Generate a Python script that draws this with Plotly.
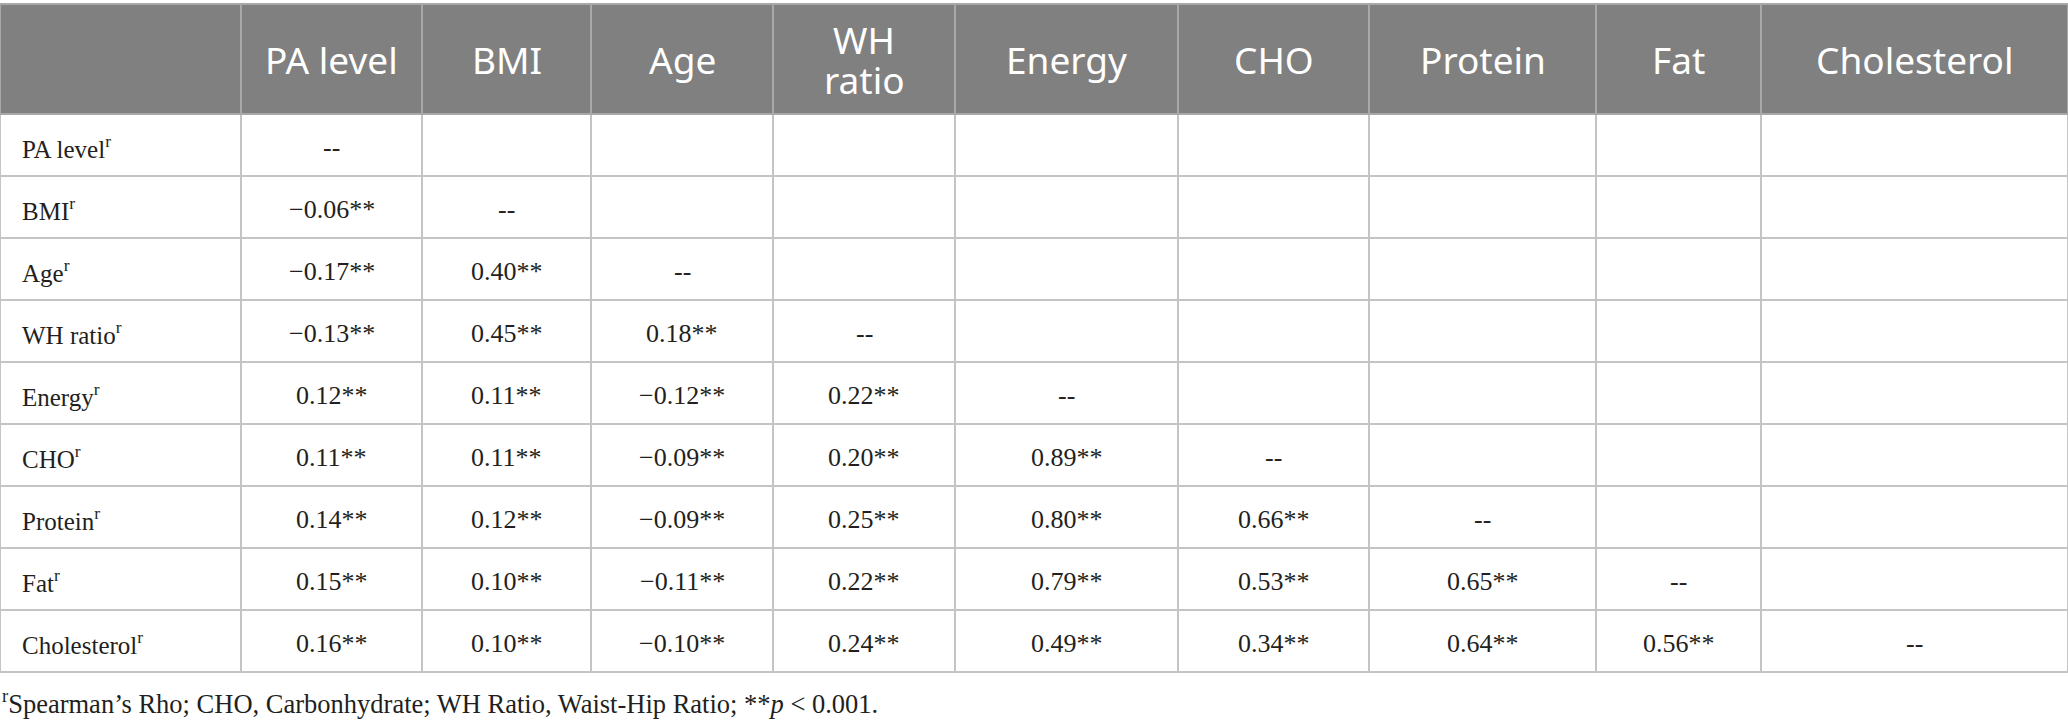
import plotly.graph_objects as go

# 変数名
col_labels = ["PA level", "BMI", "Age", "WH<br>ratio", "Energy", "CHO", "Protein", "Fat", "Cholesterol"]
row_labels = ["PA level", "BMI", "Age", "WH ratio", "Energy", "CHO", "Protein", "Fat", "Cholesterol"]

# 下三角の相関係数 (Spearman's rho)
rho_bmi = [-0.06]
rho_age = [-0.17, 0.40]
rho_wh = [-0.13, 0.45, 0.18]
rho_energy = [0.12, 0.11, -0.12, 0.22]
rho_cho = [0.11, 0.11, -0.09, 0.20, 0.89]
rho_protein = [0.14, 0.12, -0.09, 0.25, 0.80, 0.66]
rho_fat = [0.15, 0.10, -0.11, 0.22, 0.79, 0.53, 0.65]
rho_chol = [0.16, 0.10, -0.10, 0.24, 0.49, 0.34, 0.64, 0.56]
lower = [[], rho_bmi, rho_age, rho_wh, rho_energy, rho_cho, rho_protein, rho_fat, rho_chol]

footnote = ("<sup>r</sup>Spearman’s Rho; CHO, Carbonhydrate; WH Ratio, Waist-Hip Ratio; "
            "**<i>p</i> < 0.001.")


def fmt(v):
    s = f"{abs(v):.2f}**"
    return ("−" + s) if v < 0 else s


# 行列を組み立てる
n = len(row_labels)
matrix = []
for i in range(n):
    row = [fmt(v) for v in lower[i]] + ["--"] + [""] * (n - i - 1)
    matrix.append(row)

# レイアウト設定
W, H = 2068, 727
top = 4
header_h = 110
row_h = 62
col_w = [241, 181, 169, 182, 182, 223, 191, 227, 165, 307]
line_color = "#c4c4c4"
header_font = dict(family="Noto Sans", size=37, color="white")
label_font = dict(family="Liberation Serif", size=25, color="#231f20")
value_font = dict(family="Liberation Serif", size=26, color="#231f20")

# 表の枠と塗りだけ go.Table で描く (文字は縦中央にするため注釈で)
fig = go.Figure(go.Table(
    columnwidth=col_w,
    header=dict(
        values=[""] * (n + 1),
        fill_color="#808080",
        line=dict(color="#a8a8a8", width=1.5),
        height=header_h,
    ),
    cells=dict(
        values=[[""] * n for _ in range(n + 1)],
        fill_color="white",
        line=dict(color=line_color, width=1.5),
        height=row_h,
    ),
    domain=dict(x=[0, 1], y=[0, 1]),
))

total = sum(col_w)
edges = [sum(col_w[:k]) for k in range(len(col_w) + 1)]
centers = [(edges[k] + edges[k + 1]) / 2 / total for k in range(len(col_w))]

# ヘッダー
for k, lab in enumerate(col_labels):
    lines = lab.split("<br>")
    spacing = 40
    for m, txt in enumerate(lines):
        off = (m - (len(lines) - 1) / 2) * spacing
        fig.add_annotation(
            text=txt, xref="paper", yref="paper", x=centers[k + 1], y=1,
            xanchor="center", yanchor="middle", showarrow=False,
            yshift=-(header_h / 2 + off), font=header_font,
        )

# 本体
for i in range(n):
    ys = -(header_h + row_h * (i + 0.5) + 2)
    fig.add_annotation(
        text=row_labels[i] + "<sup>r</sup>", xref="paper", yref="paper",
        x=20 / total, y=1, xanchor="left", yanchor="middle", showarrow=False,
        yshift=ys, font=label_font,
    )
    for j in range(n):
        if matrix[i][j]:
            fig.add_annotation(
                text=matrix[i][j], xref="paper", yref="paper",
                x=centers[j + 1], y=1, xanchor="center", yanchor="middle",
                showarrow=False, yshift=ys, font=value_font,
            )

fig.add_annotation(
    text=footnote, xref="paper", yref="paper", x=0.0, y=0.0,
    xanchor="left", yanchor="bottom", showarrow=False,
    font=dict(family="Liberation Serif", size=26.5, color="#231f20"),
)

fig.update_layout(
    width=W, height=H,
    margin=dict(l=0, r=0, t=top, b=6),
    paper_bgcolor="white",
)

# ブラウザ既定の余白を消す
fig.write_html("out.html", config={"displayModeBar": False},
               post_script="document.body.style.margin='0';")
